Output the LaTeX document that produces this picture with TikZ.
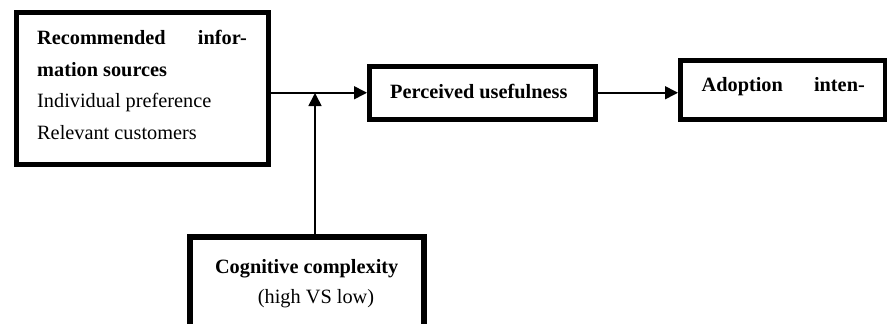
\documentclass[tikz,border=0pt]{standalone}
\usepackage{fontspec}
\setmainfont{Liberation Serif}
\usetikzlibrary{arrows.meta}
\begin{document}
\begin{tikzpicture}[x=1pt,y=-1pt,
  box/.style={draw, line width=5pt, rectangle, inner sep=0pt},
  txt/.style={inner sep=0pt, font=\fontsize{20.3}{31}\selectfont},
  btxt/.style={txt, font=\fontsize{20.3}{31}\selectfont\bfseries},
  conn/.style={line width=1.6pt, -{Triangle[length=13pt,width=13pt]}}]
\useasboundingbox (0,0) rectangle (887,324);
\clip (0,0) rectangle (887,324);
% boxes
\node[box, minimum width=252.5pt, minimum height=152pt] (b1) at (142.25,88) {};
\node[box, minimum width=226pt, minimum height=52.5pt] (b2) at (482.5,92.75) {};
\node[box, minimum width=205pt, minimum height=59pt] (b3) at (783,89.5) {};
\node[box, line width=6pt, minimum width=234pt, minimum height=103pt] (b4) at (306.7,288.5) {};
% texts
\node[btxt, anchor=base west] (t1a) at (37,45) {Recommended};
\node[btxt, anchor=base east] (t1b) at (247,45) {infor-};
\node[btxt, anchor=base west] (t1c) at (37,76) {mation sources};
\node[txt, anchor=base west] (t1d) at (37,107.5) {Individual preference};
\node[txt, anchor=base west] (t1e) at (37,139) {Relevant customers};
\node[btxt, anchor=base west] (t2) at (390,98) {Perceived usefulness};
\node[btxt, anchor=base west] (t3a) at (701.5,91.5) {Adoption};
\node[btxt, anchor=base east] (t3b) at (865,91.5) {inten-};
\node[btxt, anchor=base] (t4a) at (306.7,273) {Cognitive complexity};
\node[txt, anchor=base] (t4b) at (316,303) {(high VS low)};
% connectors
\coordinate (j) at (315,93);
\draw[conn] (b1.east |- b2.west) -- (b2.west);
\draw[conn] (b2.east) -- (b2.east -| b3.west);
\draw[conn] (b4.north -| j) -- (j);
\end{tikzpicture}
\end{document}
